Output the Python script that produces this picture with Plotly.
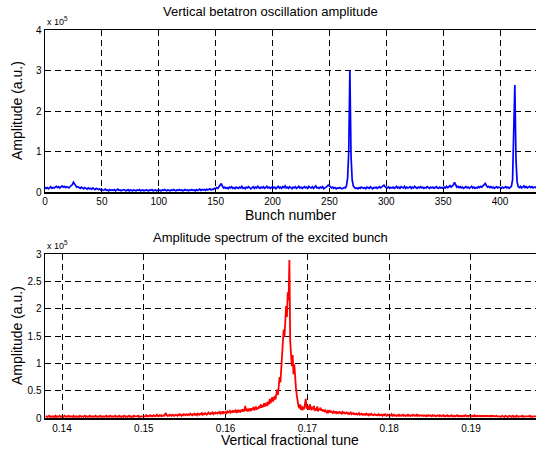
import plotly.graph_objects as go

# ---------------- data ----------------
# Top: vertical betatron oscillation amplitude per bunch (units of 1e5, a.u.)
bunch_amp_e5 = [
    0.12,0.09,0.11,0.08,0.10,0.13,0.09,0.11,0.10,0.12,
    0.14,0.11,0.13,0.10,0.12,0.15,0.12,0.14,0.11,0.13,
    0.12,0.10,0.13,0.15,0.18,0.24,0.20,0.15,0.12,0.13,
    0.11,0.09,0.12,0.10,0.08,0.11,0.09,0.07,0.10,0.08,
    0.09,0.07,0.10,0.08,0.06,0.09,0.07,0.06,0.08,0.05,
    0.06,0.04,0.05,0.07,0.04,0.05,0.03,0.06,0.04,0.05,
    0.04,0.06,0.03,0.05,0.07,0.04,0.05,0.03,0.04,0.06,
    0.05,0.03,0.04,0.06,0.03,0.05,0.04,0.03,0.05,0.04,
    0.03,0.05,0.04,0.06,0.03,0.04,0.05,0.03,0.04,0.05,
    0.04,0.03,0.05,0.04,0.06,0.03,0.04,0.05,0.03,0.04,
    0.05,0.04,0.03,0.05,0.04,0.06,0.04,0.03,0.05,0.04,
    0.03,0.05,0.04,0.06,0.04,0.03,0.05,0.04,0.06,0.04,
    0.05,0.03,0.04,0.06,0.04,0.05,0.03,0.05,0.04,0.06,
    0.04,0.05,0.03,0.06,0.04,0.05,0.07,0.04,0.06,0.05,
    0.06,0.04,0.07,0.05,0.06,0.08,0.05,0.07,0.06,0.09,
    0.08,0.11,0.09,0.13,0.17,0.21,0.14,0.10,0.12,0.09,
    0.11,0.08,0.12,0.10,0.13,0.09,0.11,0.08,0.12,0.10,
    0.09,0.12,0.10,0.14,0.09,0.11,0.08,0.12,0.10,0.13,
    0.10,0.08,0.11,0.13,0.09,0.12,0.10,0.14,0.11,0.09,
    0.12,0.10,0.13,0.09,0.11,0.14,0.10,0.12,0.09,0.11,
    0.13,0.10,0.12,0.08,0.11,0.14,0.10,0.12,0.09,0.13,
    0.11,0.15,0.10,0.12,0.09,0.13,0.11,0.08,0.12,0.10,
    0.13,0.09,0.11,0.14,0.10,0.12,0.09,0.11,0.13,0.10,
    0.12,0.09,0.14,0.11,0.10,0.13,0.09,0.12,0.15,0.10,
    0.11,0.09,0.12,0.10,0.13,0.08,0.11,0.12,0.14,0.17,
    0.15,0.11,0.10,0.12,0.09,0.11,0.08,0.10,0.09,0.11,
    0.10,0.08,0.09,0.11,0.10,0.15,0.35,1.00,3.00,0.90,
    0.30,0.15,0.11,0.09,0.10,0.08,0.11,0.09,0.12,0.10,
    0.09,0.11,0.08,0.12,0.10,0.09,0.13,0.10,0.08,0.11,
    0.10,0.12,0.09,0.11,0.13,0.10,0.12,0.15,0.17,0.13,
    0.11,0.10,0.13,0.09,0.11,0.10,0.12,0.09,0.11,0.14,
    0.10,0.12,0.09,0.13,0.11,0.10,0.14,0.09,0.12,0.10,
    0.11,0.13,0.09,0.12,0.10,0.14,0.11,0.09,0.12,0.10,
    0.13,0.10,0.12,0.09,0.11,0.10,0.13,0.11,0.09,0.12,
    0.10,0.12,0.09,0.11,0.13,0.10,0.09,0.12,0.10,0.11,
    0.09,0.12,0.10,0.14,0.11,0.13,0.16,0.12,0.15,0.18,
    0.24,0.16,0.12,0.14,0.11,0.13,0.10,0.12,0.09,0.11,
    0.13,0.10,0.12,0.09,0.11,0.14,0.10,0.12,0.09,0.11,
    0.10,0.13,0.11,0.14,0.12,0.15,0.17,0.21,0.16,0.12,
    0.14,0.11,0.13,0.10,0.12,0.09,0.11,0.13,0.10,0.12,
    0.11,0.09,0.12,0.10,0.11,0.13,0.10,0.12,0.09,0.11,
    0.14,0.30,1.20,2.64,0.80,0.25,0.13,0.11,0.14,0.10,
    0.12,0.15,0.11,0.13,0.10,0.12,0.14,0.11,0.13,0.10,
    0.12,0.11,0.13,
]
bunch_numbers = list(range(len(bunch_amp_e5)))

# Bottom: amplitude spectrum of the excited bunch (units of 1e5, a.u.)
tune_start = 0.1380
tune_step = 0.0001
spectrum_amp_e5 = [
    0.02,0.03,0.02,0.03,0.04,0.02,0.03,0.02,0.03,0.02,
    0.03,0.02,0.04,0.02,0.03,0.02,0.03,0.04,0.02,0.03,
    0.02,0.03,0.02,0.04,0.03,0.02,0.03,0.02,0.04,0.03,
    0.02,0.03,0.03,0.02,0.04,0.02,0.03,0.02,0.03,0.02,
    0.03,0.02,0.04,0.03,0.02,0.03,0.02,0.03,0.04,0.02,
    0.03,0.02,0.03,0.02,0.04,0.03,0.02,0.03,0.02,0.03,
    0.02,0.04,0.03,0.02,0.03,0.02,0.03,0.04,0.02,0.03,
    0.02,0.03,0.02,0.03,0.04,0.02,0.03,0.03,0.02,0.04,
    0.03,0.02,0.03,0.02,0.03,0.04,0.02,0.03,0.02,0.03,
    0.04,0.02,0.03,0.02,0.03,0.02,0.04,0.03,0.02,0.03,
    0.02,0.03,0.04,0.02,0.03,0.02,0.03,0.02,0.04,0.03,
    0.03,0.02,0.03,0.04,0.02,0.03,0.02,0.03,0.03,0.04,
    0.03,0.04,0.03,0.05,0.03,0.04,0.03,0.04,0.05,0.03,
    0.04,0.03,0.05,0.04,0.03,0.04,0.06,0.04,0.03,0.05,
    0.04,0.05,0.03,0.04,0.05,0.04,0.06,0.09,0.05,0.04,
    0.05,0.04,0.06,0.05,0.04,0.06,0.05,0.04,0.05,0.06,
    0.05,0.04,0.06,0.05,0.07,0.05,0.04,0.06,0.05,0.07,
    0.06,0.05,0.07,0.06,0.05,0.07,0.06,0.08,0.06,0.05,
    0.07,0.06,0.08,0.06,0.07,0.05,0.08,0.07,0.06,0.08,
    0.07,0.09,0.06,0.08,0.07,0.09,0.07,0.06,0.08,0.10,
    0.08,0.07,0.09,0.08,0.10,0.07,0.09,0.08,0.10,0.09,
    0.08,0.10,0.09,0.11,0.08,0.10,0.09,0.12,0.09,0.10,
    0.11,0.09,0.12,0.10,0.11,0.13,0.10,0.12,0.11,0.14,
    0.10,0.12,0.14,0.11,0.13,0.10,0.15,0.12,0.11,0.14,
    0.13,0.16,0.12,0.14,0.22,0.13,0.15,0.12,0.17,0.14,
    0.16,0.13,0.18,0.15,0.20,0.14,0.17,0.21,0.15,0.19,
    0.17,0.22,0.18,0.25,0.19,0.23,0.20,0.27,0.21,0.24,
    0.28,0.22,0.30,0.25,0.35,0.27,0.32,0.38,0.30,0.36,
    0.40,0.34,0.45,0.52,0.42,0.60,0.75,0.65,0.95,1.15,
    1.35,1.62,1.48,1.78,2.05,1.85,2.30,2.15,2.89,1.40,
    1.12,0.95,1.15,0.80,0.98,0.66,0.55,0.42,0.30,0.22,
    0.18,0.25,0.15,0.22,0.14,0.20,0.16,0.24,0.35,0.19,
    0.17,0.22,0.15,0.25,0.18,0.14,0.20,0.16,0.22,0.13,
    0.18,0.14,0.21,0.12,0.17,0.15,0.19,0.13,0.16,0.12,
    0.15,0.11,0.14,0.12,0.10,0.13,0.11,0.14,0.10,0.12,
    0.11,0.09,0.12,0.10,0.11,0.09,0.12,0.08,0.10,0.11,
    0.09,0.10,0.08,0.11,0.09,0.10,0.08,0.09,0.10,0.08,
    0.09,0.07,0.08,0.10,0.07,0.08,0.09,0.07,0.08,0.07,
    0.08,0.06,0.07,0.09,0.06,0.07,0.08,0.06,0.07,0.06,
    0.07,0.06,0.08,0.06,0.07,0.05,0.07,0.06,0.08,0.06,
    0.06,0.05,0.07,0.06,0.05,0.06,0.05,0.07,0.05,0.06,
    0.05,0.06,0.04,0.06,0.05,0.07,0.05,0.04,0.06,0.05,
    0.06,0.04,0.05,0.07,0.04,0.05,0.06,0.04,0.05,0.04,
    0.05,0.04,0.06,0.04,0.05,0.04,0.05,0.06,0.04,0.05,
    0.04,0.05,0.04,0.06,0.04,0.05,0.04,0.05,0.04,0.06,
    0.05,0.04,0.05,0.04,0.07,0.04,0.05,0.04,0.05,0.04,
    0.04,0.05,0.04,0.05,0.04,0.03,0.05,0.04,0.05,0.04,
    0.05,0.04,0.03,0.05,0.04,0.05,0.04,0.03,0.04,0.05,
    0.04,0.03,0.05,0.04,0.03,0.04,0.05,0.03,0.04,0.03,
    0.04,0.05,0.03,0.04,0.03,0.04,0.05,0.03,0.04,0.03,
    0.04,0.03,0.04,0.05,0.03,0.04,0.03,0.04,0.03,0.04,
    0.03,0.04,0.03,0.05,0.04,0.03,0.04,0.03,0.04,0.05,
    0.04,0.03,0.04,0.03,0.05,0.03,0.04,0.03,0.04,0.03,
    0.03,0.04,0.03,0.04,0.03,0.04,0.03,0.03,0.04,0.03,
    0.04,0.03,0.03,0.04,0.03,0.04,0.03,0.04,0.03,0.03,
    0.03,0.04,0.03,0.03,0.04,0.03,0.02,0.03,0.04,0.03,
    0.03,0.02,0.04,0.03,0.03,0.02,0.03,0.04,0.03,0.02,
    0.03,0.04,0.02,0.03,0.03,0.02,0.04,0.03,0.02,0.03,
    0.03,0.02,0.03,0.04,0.02,0.03,0.03,0.02,0.03,0.03,
    0.02,0.03,0.04,0.02,0.03,0.02,0.03,0.03,0.02,0.03,
    0.03,
]
tunes = [round(tune_start + i * tune_step, 4) for i in range(len(spectrum_amp_e5))]

top_xticks = [0, 50, 100, 150, 200, 250, 300, 350, 400]
top_yticks = [0, 1, 2, 3, 4]
bot_xticks = [0.14, 0.15, 0.16, 0.17, 0.18, 0.19]
bot_xticklabels = ["0.14", "0.15", "0.16", "0.17", "0.18", "0.19"]
bot_yticks = [0, 0.5, 1, 1.5, 2, 2.5, 3]
bot_yticklabels = ["0", "0.5", "1", "1.5", "2", "2.5", "3"]

# ---------------- figure ----------------
W, H = 536, 454
FONT = "Liberation Sans, Arial, Helvetica, sans-serif"

fig = go.Figure()
fig.add_trace(go.Scatter(x=bunch_numbers, y=bunch_amp_e5, mode="lines",
                         line=dict(color="#0000FF", width=1.7),
                         xaxis="x", yaxis="y", showlegend=False))
fig.add_trace(go.Scatter(x=tunes, y=spectrum_amp_e5, mode="lines",
                         line=dict(color="#FF0000", width=1.8),
                         xaxis="x2", yaxis="y2", showlegend=False))

def ax_common(standoff):
    return dict(showline=True, linecolor="black", linewidth=1.5,
                ticks="inside", ticklen=4, tickcolor="black",
                showgrid=True, gridcolor="black", gridwidth=1,
                griddash="6px,4px", zeroline=False, automargin=False,
                ticklabelstandoff=standoff,
                tickfont=dict(family=FONT, size=10, color="black"))

x_dom = [45 / W, 1.0]
fig.update_layout(
    template="none",
    width=W, height=H, autosize=False,
    margin=dict(l=0, r=0, t=0, b=0, pad=0),
    paper_bgcolor="white", plot_bgcolor="white",
    showlegend=False,
    xaxis=dict(domain=x_dom, range=[0, 431.6], tickvals=top_xticks,
               anchor="y", mirror=True, **ax_common(-1)),
    yaxis=dict(domain=[(H - 192) / H, (H - 30) / H], range=[0, 4],
               tickvals=top_yticks, anchor="x", **ax_common(0)),
    xaxis2=dict(domain=x_dom, range=[0.13792, 0.19795], tickvals=bot_xticks,
                ticktext=bot_xticklabels, anchor="y2", mirror=True, **ax_common(0)),
    yaxis2=dict(domain=[(H - 418) / H, (H - 254) / H], range=[0, 3],
                tickvals=bot_yticks, ticktext=bot_yticklabels, anchor="x2",
                **ax_common(0)),
)

def ann(text, x, y, size, angle=0, xanchor="center"):
    fig.add_annotation(text=text, x=x / W, y=1 - y / H, xref="paper", yref="paper",
                       showarrow=False, textangle=angle, xanchor=xanchor,
                       yanchor="middle",
                       font=dict(family=FONT, size=size, color="black"))

ann("Vertical betatron oscillation amplitude", 270, 12, 13)
ann("Amplitude spectrum of the excited bunch", 270, 238, 13)
ann("Bunch number", 290, 215, 14)
ann("Vertical fractional tune", 290, 440, 14)
ann("Amplitude (a.u.)", 17, 111, 14, angle=-90)
ann("Amplitude (a.u.)", 17, 336, 14, angle=-90)
ann("x 10<sup>5</sup>", 45, 21, 9, xanchor="left")
ann("x 10<sup>5</sup>", 45, 245, 9, xanchor="left")

fig.write_html("out.html",
               config={"displayModeBar": False, "staticPlot": True},
               post_script="document.body.style.margin='0px';"
                           "document.body.style.padding='0px';")
